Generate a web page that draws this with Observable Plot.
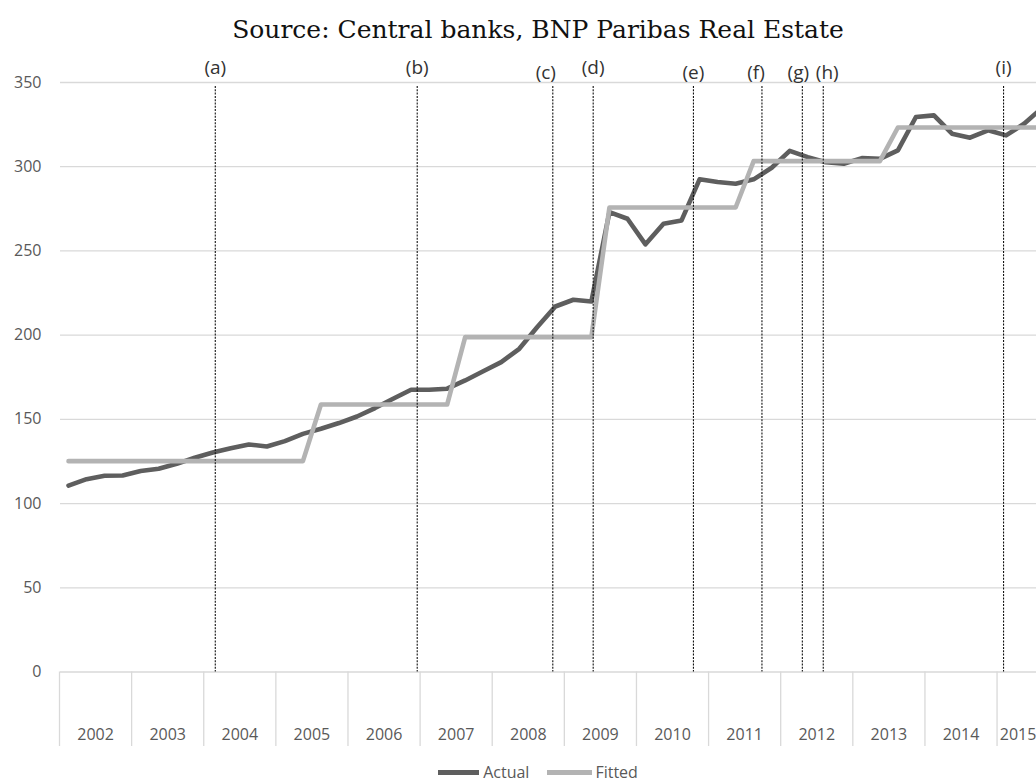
<!DOCTYPE html>
<html>
<head>
<meta charset="utf-8">
<script src="https://cdn.jsdelivr.net/npm/d3@7"></script>
<script src="https://cdn.jsdelivr.net/npm/@observablehq/plot@0.6"></script>
<style>
  html, body { margin: 0; padding: 0; background: #fff; overflow: hidden; width: 1036px; height: 781px; }
  #title { position: absolute; top: 16px; left: 0; width: 1076px; text-align: center;
           font-family: "DejaVu Serif", serif; font-size: 25px; line-height: 28px; color: #111; white-space: nowrap; }
  #chart { position: absolute; top: 50px; left: 0; width: 1036px; overflow: hidden; }
  #chart svg { overflow: hidden !important; }
  #legend { position: absolute; top: 760px; left: 0; width: 1076px; height: 24px; display: flex;
            justify-content: center; align-items: center; font-family: "Open Sans", sans-serif;
            font-size: 16px; color: #595959; }
  .sw { display: inline-block; height: 5px; }
</style>
</head>
<body>
<div id="title">Source: Central banks, BNP Paribas Real Estate</div>
<div id="chart"></div>
<div id="legend">
  <span class="sw" style="width:41px;background:#5e5e5e"></span><span style="margin-left:4px">Actual</span>
  <span class="sw" style="width:45px;background:#b3b3b3;margin-left:18px"></span><span style="margin-left:3px">Fitted</span>
</div>
<script>
// ---- data (quarterly, 2002 Q1 – 2015 Q3) ----
const years = [2002, 2003, 2004, 2005, 2006, 2007, 2008, 2009, 2010, 2011, 2012, 2013, 2014, 2015];
const actual = [
  110.7, 114.5, 116.5, 116.7,
  119.3, 120.7, 123.6, 127.2,
  130.3, 132.9, 135.1, 133.9,
  137.1, 141.4, 144.4, 147.8,
  151.7, 156.7, 162.2, 167.6,
  167.6, 168.2, 173.1, 178.6,
  184.0, 191.9, 204.8, 217.0,
  221.0, 220.0, 273.0, 269.1,
  253.9, 266.2, 268.1, 292.5,
  290.9, 289.9, 292.5, 299.4,
  309.4, 305.7, 302.7, 301.8,
  305.1, 304.7, 309.7, 329.5,
  330.5, 319.6, 317.2, 321.6,
  318.6, 325.5, 335.0
];
const fitted = [
  125.2, 125.2, 125.2, 125.2,
  125.2, 125.2, 125.2, 125.2,
  125.2, 125.2, 125.2, 125.2,
  125.2, 125.2, 158.8, 158.8,
  158.8, 158.8, 158.8, 158.8,
  158.8, 158.8, 198.8, 198.8,
  198.8, 198.8, 198.8, 198.8,
  198.8, 198.8, 275.8, 275.8,
  275.8, 275.8, 275.8, 275.8,
  275.8, 275.8, 303.3, 303.3,
  303.3, 303.3, 303.3, 303.3,
  303.3, 303.3, 323.3, 323.3,
  323.3, 323.3, 323.3, 323.3,
  323.3, 323.3, 323.3
];
const eventLabels = ["(a)", "(b)", "(c)", "(d)", "(e)", "(f)", "(g)", "(h)", "(i)"];
const eventDates  = [2004.16, 2006.96, 2008.84, 2009.40, 2010.79, 2011.74, 2012.30, 2012.59, 2015.09];
const yTicks = [0, 50, 100, 150, 200, 250, 300, 350];

// ---- derived tables ----
const rows = actual.map((v, i) => ({
  year: years[Math.floor(i / 4)],
  t: years[Math.floor(i / 4)] + ((i % 4) + 0.5) / 4,
  actual: v,
  fitted: fitted[i]
}));
const lastT = rows[rows.length - 1].t + 0.125;
const boundaries = [...years, lastT];
const yearCenters = Array.from(d3.group(rows, d => d.year), ([y, g]) => ({year: y, t: d3.mean(g, d => d.t)}));
const fullYears = yearCenters.slice(0, -1).map(d => d.t);
const partYear = yearCenters.slice(-1).map(d => d.t);
const raised = new Set(["(a)", "(b)", "(d)", "(i)"]);
const nudge = {"(c)": -7, "(f)": -6, "(g)": -4, "(h)": 4};
const events = eventLabels.map((l, i) => ({label: l, date: eventDates[i], dy: raised.has(l) ? -14.5 : -9.5, dx: nudge[l] || 0}));

const qw = 72.12; // px per year
const yearAxis = {tickSize: 0, tickPadding: 57, fontSize: 16, fill: "#595959", tickFormat: t => String(Math.floor(t)), label: null};
const plot = Plot.plot({
  width: 1036,
  height: 705,
  marginTop: 32,
  marginBottom: 83.5,
  marginLeft: 60,
  marginRight: 0,
  x: {type: "linear", domain: [2002, lastT], range: [59, 59 + (lastT - 2002) * qw]},
  y: {domain: [0, 350]},
  style: {fontFamily: "'Open Sans', sans-serif", background: "white"},
  marks: [
    Plot.gridY(yTicks, {stroke: "#d9d9d9", strokeOpacity: 1, strokeWidth: 1.3}),
    Plot.axisY(yTicks, {tickSize: 0, tickPadding: 19, fontSize: 16, fill: "#595959", label: null}),
    Plot.axisX(boundaries, {tickSize: 74.5, stroke: "#d9d9d9", strokeOpacity: 1, strokeWidth: 1.3, tickFormat: () => "", label: null}),
    Plot.axisX(fullYears, yearAxis),
    Plot.axisX(partYear, {...yearAxis, dx: -6}),
    Plot.line(rows, {x: "t", y: "actual", stroke: "#5e5e5e", strokeWidth: 4.6, strokeLinejoin: "round"}),
    Plot.line(rows, {x: "t", y: "fitted", stroke: "#b3b3b3", strokeWidth: 4.6, strokeLinejoin: "round"}),
    Plot.ruleX(events, {x: "date", insetTop: 4, stroke: "#111", strokeWidth: 1.1, strokeDasharray: "2,1.3"}),
    ...events.map(e => Plot.text([e], {x: "date", text: "label", frameAnchor: "top", lineAnchor: "middle",
      dy: e.dy, dx: e.dx, fontSize: 19, fill: "#333"}))
  ]
});
document.getElementById("chart").appendChild(plot);
</script>
</body>
</html>
